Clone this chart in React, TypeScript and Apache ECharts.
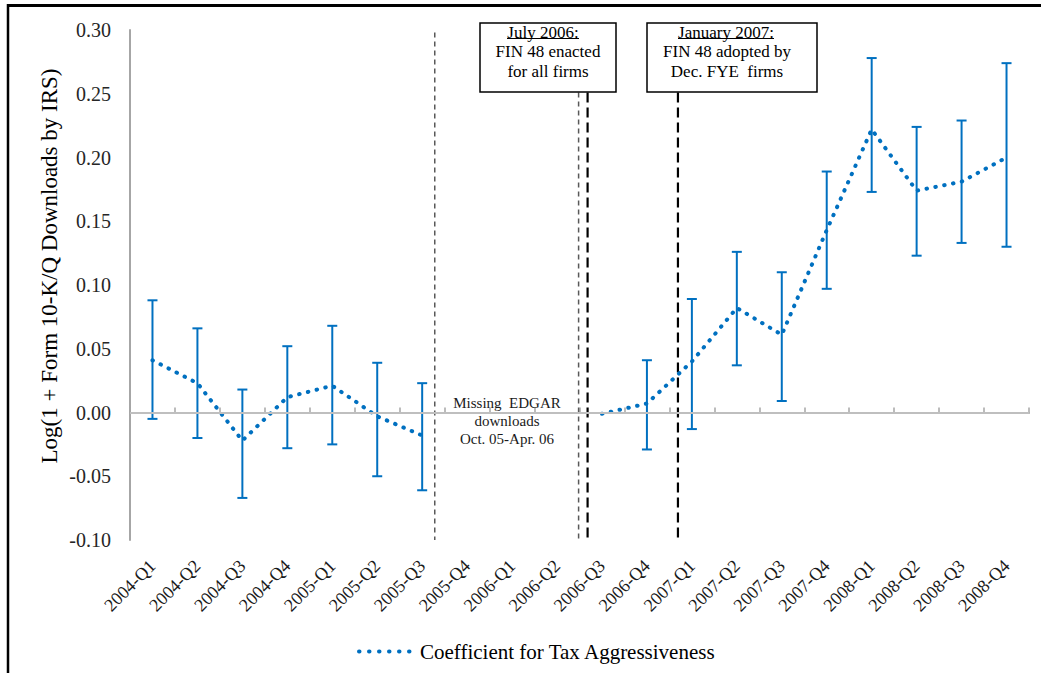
import React, { useEffect, useRef } from "react";
import * as echarts from "echarts";

const categories = [
  "2004-Q1", "2004-Q2", "2004-Q3", "2004-Q4",
  "2005-Q1", "2005-Q2", "2005-Q3", "2005-Q4",
  "2006-Q1", "2006-Q2", "2006-Q3", "2006-Q4",
  "2007-Q1", "2007-Q2", "2007-Q3", "2007-Q4",
  "2008-Q1", "2008-Q2", "2008-Q3", "2008-Q4",
];

const coefficients: (number | null)[] = [
  0.041, 0.023, -0.022, 0.012, 0.021, -0.003, -0.018,
  null, null, null,
  -0.001, 0.007, 0.040, 0.082, 0.061, 0.143, 0.222, 0.174, 0.181, 0.200,
];

const ciLow: (number | null)[] = [
  -0.005, -0.020, -0.067, -0.028, -0.025, -0.050, -0.061,
  null, null, null, null,
  -0.029, -0.013, 0.037, 0.009, 0.097, 0.173, 0.123, 0.133, 0.130,
];

const ciHigh: (number | null)[] = [
  0.088, 0.066, 0.018, 0.052, 0.068, 0.039, 0.023,
  null, null, null, null,
  0.041, 0.089, 0.126, 0.110, 0.189, 0.278, 0.224, 0.229, 0.274,
];

// event lines: [x position in category units from left edge, top value, bottom value, style index]
const eventLines: number[][] = [
  [6.78, 0.298, -0.1, 0],
  [9.98, 0.251, -0.1, 0],
  [10.18, 0.251, -0.1, 1],
  [12.19, 0.251, -0.1, 1],
];

const SERIES_NAME = "Coefficient for Tax Aggressiveness";
const BLUE = "#0070C0";
const SERIF = "Liberation Serif";

const txt = (text: string, x: number, y: number, size: number, extra: any = {}) => ({
  type: "text",
  x,
  y,
  z: 11,
  style: {
    text,
    fontFamily: SERIF,
    fontSize: size,
    fill: "#000",
    align: "center",
    verticalAlign: "middle",
    ...extra,
  },
});

export default function App() {
  const ref = useRef<HTMLDivElement>(null);

  useEffect(() => {
    if (!ref.current) return;
    const chart = echarts.init(ref.current, undefined, { renderer: "svg" });

    const errData = categories
      .map((_, i) => [i, ciLow[i], ciHigh[i]])
      .filter((d) => d[1] != null && d[2] != null);

    const lineStyles = [
      { stroke: "#595959", lineWidth: 1.5, lineDash: [5, 4] },
      { stroke: "#000000", lineWidth: 2.2, lineDash: [10, 5] },
    ];

    const option: any = {
      animation: false,
      backgroundColor: "#ffffff",
      textStyle: { fontFamily: SERIF },
      grid: { left: 130, right: 12, top: 30, bottom: 133, containLabel: false },
      legend: {
        data: [SERIES_NAME],
        left: 352,
        top: 636,
        itemWidth: 56,
        itemHeight: 14,
        itemGap: 5,
        itemStyle: { opacity: 0 },
        lineStyle: { color: BLUE, width: 4, type: [0.5, 9.5], cap: "round", opacity: 1 },
        textStyle: { fontFamily: SERIF, fontSize: 21, color: "#000" },
      },
      xAxis: [
        {
          type: "category",
          data: categories,
          boundaryGap: true,
          axisLine: { show: true, lineStyle: { color: "#A6A6A6", width: 2 } },
          axisTick: { show: true, inside: true, length: 5, alignWithLabel: false, lineStyle: { color: "#A6A6A6", width: 1.5 } },
          axisLabel: {
            rotate: 45,
            interval: 0,
            margin: 23,
            fontFamily: SERIF,
            fontSize: 18,
            color: "#1a1a1a",
          },
          splitLine: { show: false },
        },
        {
          type: "value",
          min: 0,
          max: 20,
          show: false,
          splitLine: { show: false },
        },
      ],
      yAxis: {
        type: "value",
        min: -0.1,
        max: 0.3,
        interval: 0.05,
        axisLine: { show: true, lineStyle: { color: "#A6A6A6", width: 2 } },
        axisTick: { show: false },
        splitLine: { show: false },
        axisLabel: {
          margin: 19,
          fontFamily: SERIF,
          fontSize: 20,
          color: "#262626",
          formatter: (v: number) => v.toFixed(2),
        },
      },
      series: [
        {
          type: "custom",
          name: "events",
          xAxisIndex: 1,
          yAxisIndex: 0,
          z: 1,
          silent: true,
          data: eventLines,
          encode: { x: 0, y: [1, 2] },
          renderItem: (params: any, api: any) => {
            const x = api.value(0);
            const top = api.coord([x, api.value(1)]);
            const bot = api.coord([x, api.value(2)]);
            const s = lineStyles[api.value(3)];
            return {
              type: "line",
              shape: { x1: top[0], y1: top[1], x2: bot[0], y2: bot[1] },
              style: { stroke: s.stroke, lineWidth: s.lineWidth, lineDash: s.lineDash },
            };
          },
          markLine: {
            silent: true,
            symbol: "none",
            label: { show: false },
            lineStyle: { color: "#BFBFBF", width: 2, type: "solid" },
            data: [{ yAxis: 0 }],
          },
        },
        {
          type: "line",
          name: SERIES_NAME,
          data: coefficients,
          connectNulls: false,
          symbol: "none",
          showSymbol: false,
          z: 3,
          color: BLUE,
          lineStyle: { color: BLUE, width: 4, type: [0.5, 8.5], cap: "round" },
        },
        {
          type: "custom",
          name: "ci",
          z: 4,
          silent: true,
          data: errData,
          encode: { x: 0, y: [1, 2] },
          renderItem: (params: any, api: any) => {
            const i = api.value(0);
            const lo = api.coord([i, api.value(1)]);
            const hi = api.coord([i, api.value(2)]);
            const w = 5;
            const style = { stroke: BLUE, lineWidth: 2 };
            return {
              type: "group",
              children: [
                { type: "line", shape: { x1: lo[0], y1: lo[1], x2: hi[0], y2: hi[1] }, style },
                { type: "line", shape: { x1: lo[0] - w, y1: lo[1], x2: lo[0] + w, y2: lo[1] }, style },
                { type: "line", shape: { x1: hi[0] - w, y1: hi[1], x2: hi[0] + w, y2: hi[1] }, style },
              ],
            };
          },
        },
      ],
      graphic: [
        // outer frame
        { type: "line", shape: { x1: 8, y1: 5.5, x2: 1041, y2: 5.5 }, style: { stroke: "#000", lineWidth: 3 } },
        { type: "line", shape: { x1: 8, y1: 4, x2: 8, y2: 673 }, style: { stroke: "#000", lineWidth: 2.5 } },
        // y axis title
        {
          type: "text",
          x: 49,
          y: 266,
          rotation: Math.PI / 2,
          style: {
            text: "Log(1 + Form 10-K/Q Downloads by IRS)",
            fontFamily: SERIF,
            fontSize: 23,
            fill: "#000",
            align: "center",
            verticalAlign: "middle",
          },
        },
        // box 1
        {
          type: "rect",
          shape: { x: 480, y: 23, width: 136, height: 69 },
          style: { fill: "#fff", stroke: "#000", lineWidth: 1.5 },
          z: 10,
        },
        txt("July 2006:", 543, 32, 17),
        { type: "line", z: 11, shape: { x1: 507, y1: 38.5, x2: 579, y2: 38.5 }, style: { stroke: "#000", lineWidth: 1 } },
        txt("FIN 48 enacted", 548, 51, 17),
        txt("for all firms", 548, 71, 17),
        // box 2
        {
          type: "rect",
          shape: { x: 647, y: 23, width: 170, height: 69 },
          style: { fill: "#fff", stroke: "#000", lineWidth: 1.5 },
          z: 10,
        },
        txt("January 2007:", 726, 32, 17),
        { type: "line", z: 11, shape: { x1: 678, y1: 38.5, x2: 774, y2: 38.5 }, style: { stroke: "#000", lineWidth: 1 } },
        txt("FIN 48 adopted by", 727, 51, 17),
        txt("Dec. FYE  firms", 727, 71, 17),
        // missing note
        txt("Missing  EDGAR\ndownloads\nOct. 05-Apr. 06", 507, 421, 15, { lineHeight: 18, fill: "#1a1a1a" }),
      ],
    };

    chart.setOption(option);
    return () => chart.dispose();
  }, []);

  return (
    <div
      ref={ref}
      style={{ position: "fixed", left: 0, top: 0, width: 1041, height: 673, background: "#fff" }}
    />
  );
}
